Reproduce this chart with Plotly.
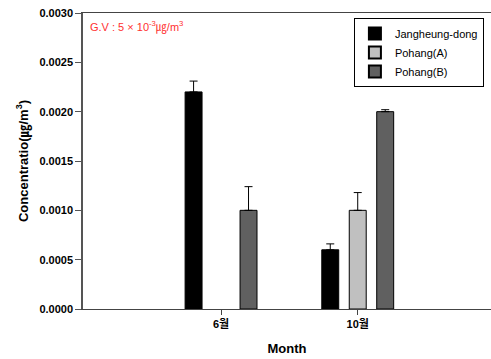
import plotly.graph_objects as go

# Monthly concentration by site (None = not detected / no bar)
months = ["6월", "10월"]
sites = ["Jangheung-dong", "Pohang(A)", "Pohang(B)"]
jangheung = [0.0022, 0.0006]
pohang_a = [None, 0.0010]
pohang_b = [0.0010, 0.0020]
jangheung_err = [0.00011, 0.00006]
pohang_a_err = [None, 0.00018]
pohang_b_err = [0.00024, 0.00002]

colors = ["#000000", "#c0c0c0", "#606060"]
values = [jangheung, pohang_a, pohang_b]
errors = [jangheung_err, pohang_a_err, pohang_b_err]

FONT = "Arial, Liberation Sans, Noto Sans CJK KR, sans-serif"
xpos = list(range(len(months)))
bar_w = 0.124
step = 0.201

fig = go.Figure()
for i, (name, vals, errs, col) in enumerate(zip(sites, values, errors, colors)):
    fig.add_trace(go.Bar(
        x=xpos, y=vals, name=name,
        width=bar_w, offset=-bar_w / 2 + (i - 1) * step,
        marker=dict(color=col, line=dict(color="#000000", width=1)),
        error_y=dict(type="data", array=errs, arrayminus=[0] * len(errs),
                     symmetric=False, color="#000000", thickness=1, width=4),
    ))

fig.add_annotation(
    xref="paper", yref="paper", x=0.012, y=0.954, xanchor="left", yanchor="middle",
    text="G.V : 5 × 10<sup>-3</sup>㎍/m<sup>3</sup>", showarrow=False,
    font=dict(family=FONT, size=11, color="#ff3030"),
)

fig.update_layout(
    width=491, height=359,
    margin=dict(l=83, r=0, t=13, b=50),
    paper_bgcolor="white", plot_bgcolor="white",
    font=dict(family=FONT, size=11, color="#000000"),
    showlegend=True,
    legend=dict(
        x=0.664, y=0.983, xanchor="left", yanchor="top",
        bordercolor="#000000", borderwidth=1, bgcolor="white",
        font=dict(family=FONT, size=11), tracegroupgap=0,
        itemsizing="constant",
    ),
    xaxis=dict(
        range=[-1.01, 1.975], tickmode="array", tickvals=xpos, ticktext=months,
        showline=True, linecolor="#444444", linewidth=1, mirror=True,
        ticks="outside", ticklen=5, tickcolor="#444444",
        showgrid=False, zeroline=False,
        tickfont=dict(family=FONT, size=11, weight="bold"),
        title=dict(text="Month", font=dict(family=FONT, size=13, weight="bold"), standoff=14),
    ),
    yaxis=dict(
        range=[0, 0.003], dtick=0.0005, tickformat=".4f",
        showline=True, linecolor="#555555", linewidth=1.5,
        ticks="outside", ticklen=6, tickcolor="#555555",
        showgrid=False, zeroline=False,
        tickfont=dict(family=FONT, size=11, weight="bold"),
        title=dict(text="Concentratio(㎍/m<sup>3</sup>)",
                   font=dict(family=FONT, size=13, weight="bold"), standoff=8),
    ),
)

fig.write_html("out.html")
